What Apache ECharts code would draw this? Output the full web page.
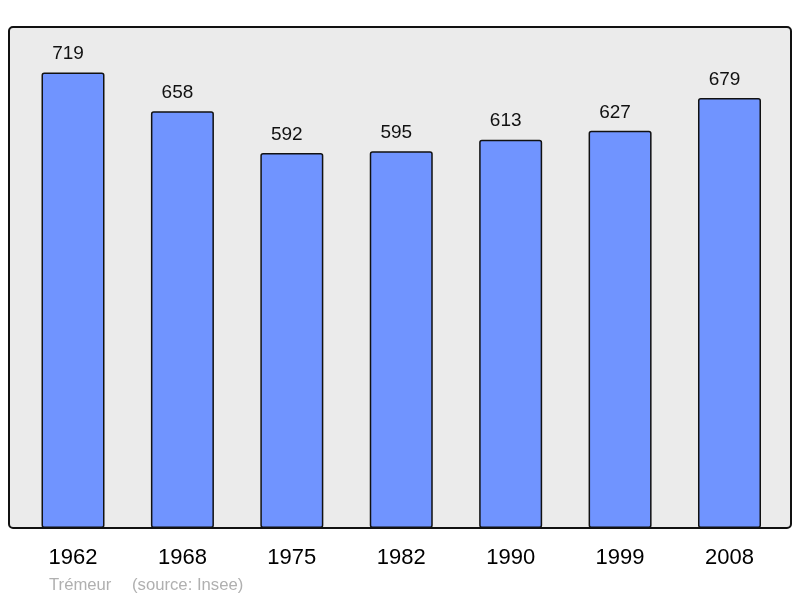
<!DOCTYPE html>
<html>
<head>
<meta charset="utf-8">
<script src="https://cdn.jsdelivr.net/npm/echarts@6/dist/echarts.min.js"></script>
<style>html,body{margin:0;padding:0;background:#fff}#c{width:800px;height:598px}</style>
</head>
<body>
<div id="c"></div>
<script>
const years = ['1962', '1968', '1975', '1982', '1990', '1999', '2008'];
const population = [719, 658, 592, 595, 613, 627, 679];
const communeName = 'Trémeur';
const sourceText = '(source: Insee)';

const chart = echarts.init(document.getElementById('c'), null, {renderer: 'canvas'});
chart.setOption({
  animation: false,
  backgroundColor: '#ffffff',
  grid: {left: 18.3, right: 15.8, top: 27, bottom: 70, containLabel: false},
  xAxis: {
    type: 'category',
    data: years,
    axisLine: {show: false},
    axisTick: {show: false},
    axisLabel: {fontFamily: 'Liberation Sans', fontSize: 22, color: '#000', margin: 19}
  },
  yAxis: {
    type: 'value', min: 0, max: 791,
    show: false,
    splitLine: {show: false}
  },
  graphic: [
    {type: 'rect', z: -10, shape: {x: 9, y: 27, width: 782, height: 501, r: 4}, style: {fill: '#ebebeb', stroke: null}},
    {type: 'rect', z: 100, silent: true, shape: {x: 9, y: 27, width: 782, height: 501, r: 4}, style: {fill: 'none', stroke: '#111', lineWidth: 2}},
    {type: 'text', left: 49, top: 577, style: {text: communeName, fill: '#b0b0b0', font: '16.7px "Liberation Sans"'}},
    {type: 'text', left: 132, top: 577, style: {text: sourceText, fill: '#b0b0b0', font: '16.7px "Liberation Sans"'}}
  ],
  series: [{
    type: 'bar',
    data: population,
    barWidth: 63,
    itemStyle: {color: '#7094ff', borderColor: '#111', borderWidth: 1.5, borderRadius: 2},
    label: {show: true, position: 'top', distance: 9, offset: [-5, 0], fontFamily: 'Liberation Sans', fontSize: 19, color: '#111'}
  }]
});
</script>
</body>
</html>
